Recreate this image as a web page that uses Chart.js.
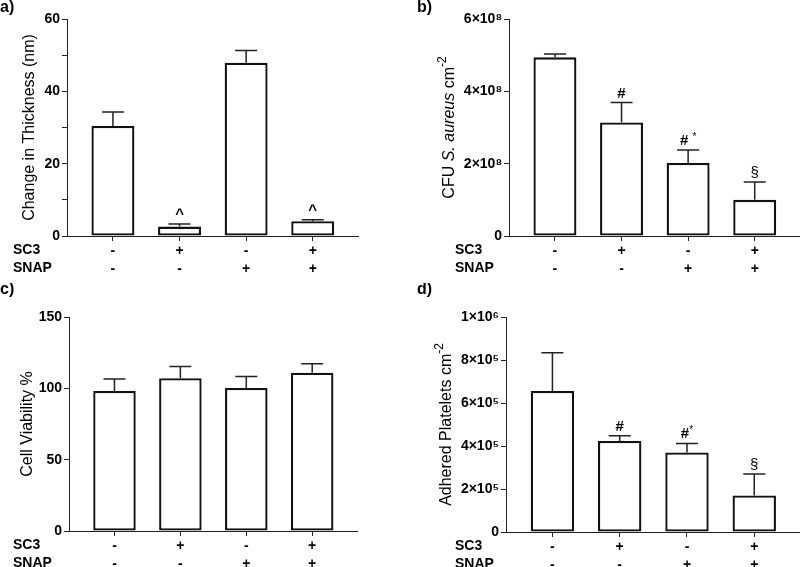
<!DOCTYPE html>
<html>
<head>
<meta charset="utf-8">
<script src="https://cdn.jsdelivr.net/npm/chart.js@4.4.1/dist/chart.umd.min.js"></script>
<style>
  html, body { margin: 0; padding: 0; background: #fff; overflow: hidden; }
  .panel { position: absolute; overflow: hidden; }
</style>
</head>
<body>
<div class="panel" style="left:0;top:0;width:400px;height:283px"><canvas id="chartA" width="400" height="283"></canvas></div>
<div class="panel" style="left:400px;top:0;width:400px;height:283px"><canvas id="chartB" width="404" height="283"></canvas></div>
<div class="panel" style="left:0;top:283px;width:400px;height:284px"><canvas id="chartC" width="400" height="284"></canvas></div>
<div class="panel" style="left:400px;top:283px;width:400px;height:284px"><canvas id="chartD" width="404" height="284"></canvas></div>
<script>
const FONT = '"Liberation Sans", Arial, sans-serif';
Chart.defaults.font.family = FONT;
Chart.defaults.color = '#000';

// groups and their treatment rows
const groups = [0, 1, 2, 3];
const sc3Labels = ['-', '+', '-', '+'];
const snapLabels = ['-', '-', '+', '+'];

// a) change in thickness
const thicknessMean = [30.4, 2.6, 47.9, 4.1];
const thicknessErr = [3.9, 0.7, 3.4, 0.4];
const thicknessMarks = ['', '^', '', '^'];

// b) CFU S. aureus
const cfuMean = [4.94e8, 3.14e8, 2.02e8, 1.00e8];
const cfuErr = [0.09e8, 0.55e8, 0.36e8, 0.49e8];
const cfuMarks = ['', '#', '# *', '§'];

// c) cell viability
const viabilityMean = [98.2, 107.1, 100.3, 110.9];
const viabilityErr = [8.4, 8.2, 8.0, 6.3];
const viabilityMarks = ['', '', '', ''];

// d) adhered platelets
const plateletMean = [6.56e5, 4.23e5, 3.70e5, 1.70e5];
const plateletErr = [1.78e5, 0.25e5, 0.42e5, 1.00e5];
const plateletMarks = ['', '#', '#*', '§'];

const sup = { '0': '⁰', '1': '¹', '2': '²', '3': '³', '4': '⁴', '5': '⁵', '6': '⁶', '7': '⁷', '8': '⁸', '9': '⁹' };
function sciLabel(v, exp) {
  if (v === 0) return '0';
  return Math.round(v / Math.pow(10, exp)) + '×10' + String(exp).split('').map(c => sup[c]).join('');
}

// error bars, significance marks, axis titles, row labels
const decor = {
  id: 'decor',
  afterDatasetsDraw(chart, args, opts) {
    const ctx = chart.ctx;
    const y = chart.scales.y;
    const meta = chart.getDatasetMeta(0);
    ctx.save();
    meta.data.forEach((bar, i) => {
      const top = y.getPixelForValue(opts.mean[i] + opts.err[i]);
      ctx.strokeStyle = '#222';
      ctx.lineWidth = 1.5;
      ctx.beginPath();
      ctx.moveTo(bar.x, bar.y);
      ctx.lineTo(bar.x, top);
      ctx.moveTo(bar.x - 11, top);
      ctx.lineTo(bar.x + 11, top);
      ctx.stroke();

      const mark = opts.marks[i];
      if (!mark) return;
      ctx.fillStyle = '#000';
      ctx.textBaseline = 'alphabetic';
      ctx.textAlign = 'left';
      const main = mark.replace('*', '');
      const star = mark.indexOf('*') >= 0;
      const mainFont = (main.trim() === '§' ? '' : 'bold ') + '15px ' + FONT;
      ctx.font = mainFont;
      const w1 = ctx.measureText(main).width;
      ctx.font = '10px ' + FONT;
      const w2 = star ? ctx.measureText('*').width : 0;
      const x0 = bar.x - (w1 + w2) / 2;
      ctx.font = mainFont;
      ctx.fillText(main, x0, top - 5);
      if (star) {
        ctx.font = '10px ' + FONT;
        ctx.fillText('*', x0 + w1, top - 10);
      }
    });
    ctx.restore();
  },
  afterDraw(chart, args, opts) {
    const ctx = chart.ctx;
    const area = chart.chartArea;
    ctx.save();
    ctx.fillStyle = '#000';

    // panel letter
    ctx.font = 'bold 16px ' + FONT;
    ctx.textAlign = 'left';
    ctx.textBaseline = 'alphabetic';
    ctx.fillText(opts.panel, opts.panelX, opts.panelY);

    // treatment row names
    ctx.font = 'bold 14px ' + FONT;
    ctx.fillText('SC3', opts.rowX, area.bottom + 18);
    ctx.fillText('SNAP', opts.rowX, area.bottom + 36);

    // rotated y title built from segments
    const segs = opts.title;
    const fontFor = s => (s.italic ? 'italic ' : '') + (s.sup ? '12px ' : '16px ') + FONT;
    let total = 0;
    segs.forEach(s => { ctx.font = fontFor(s); total += ctx.measureText(s.text).width; });
    ctx.translate(opts.titleX, (area.top + area.bottom) / 2);
    ctx.rotate(-Math.PI / 2);
    ctx.textBaseline = 'middle';
    let x = -total / 2;
    segs.forEach(s => {
      ctx.font = fontFor(s);
      ctx.fillText(s.text, x, s.sup ? -7 : 0);
      x += ctx.measureText(s.text).width;
    });
    ctx.restore();
  }
};

function makeChart(id, cfg) {
  const canvas = document.getElementById(id);
  const W = canvas.width, H = canvas.height;
  const a = cfg.area;
  return new Chart(canvas, {
    type: 'bar',
    data: {
      datasets: [{
        data: groups.map((g, i) => ({ x: g, y: cfg.mean[i] })),
        backgroundColor: '#fff',
        borderColor: '#111',
        borderWidth: 2.3,
        borderSkipped: false,
        categoryPercentage: 1,
        barPercentage: 0.645
      }]
    },
    options: {
      responsive: false,
      animation: false,
      events: [],
      layout: { padding: { left: 0, top: a.top, right: W - a.right, bottom: 0 } },
      plugins: {
        legend: { display: false },
        tooltip: { enabled: false },
        decor: {
          mean: cfg.mean, err: cfg.err, marks: cfg.marks,
          title: cfg.title, titleX: cfg.titleX,
          panel: cfg.panel, panelX: cfg.panelX, panelY: cfg.panelY, rowX: cfg.rowX
        }
      },
      scales: {
        x: {
          type: 'linear',
          min: -0.69,
          max: 3.68,
          offset: false,
          afterBuildTicks: s => { s.ticks = groups.map(v => ({ value: v })); },
          afterFit: s => { s.height = H - a.bottom; },
          grid: { offset: false, drawOnChartArea: false, drawTicks: true, tickLength: 5, color: '#222' },
          border: { color: '#222', width: 1 },
          ticks: {
            autoSkip: false,
            maxRotation: 0,
            padding: 1,
            font: { size: 14, weight: 'bold', lineHeight: 1.3 },
            callback: (v, i) => [sc3Labels[i], snapLabels[i]]
          }
        },
        y: {
          min: 0,
          max: cfg.yMax,
          afterFit: s => { s.width = a.left; },
          afterBuildTicks: s => {
            const t = [];
            for (let v = 0; v <= cfg.yMax + 1e-9 * cfg.yMax; v += cfg.yStep) t.push({ value: v });
            s.ticks = t;
          },
          grid: { drawOnChartArea: false, drawTicks: true, tickLength: 5, color: '#222' },
          border: { color: '#222', width: 1 },
          ticks: {
            padding: 2,
            font: { size: 14, weight: 'bold' },
            callback: cfg.tickLabel
          }
        }
      }
    },
    plugins: [decor]
  });
}

makeChart('chartA', {
  mean: thicknessMean, err: thicknessErr, marks: thicknessMarks,
  area: { left: 67, top: 19, right: 358, bottom: 236 },
  yMax: 60, yStep: 10,
  tickLabel: v => (Math.round(v) % 20 === 0 ? String(Math.round(v)) : ''),
  title: [{ text: 'Change in Thickness (nm)' }], titleX: 30,
  panel: 'a)', panelX: 0, panelY: 12, rowX: 13
});

makeChart('chartB', {
  mean: cfuMean, err: cfuErr, marks: cfuMarks,
  area: { left: 109, top: 19, right: 400, bottom: 236 },
  yMax: 6e8, yStep: 2e8,
  tickLabel: v => sciLabel(v, 8),
  title: [{ text: 'CFU ' }, { text: 'S. aureus', italic: true }, { text: ' cm' }, { text: '-2', sup: true }], titleX: 50,
  panel: 'b)', panelX: 17, panelY: 12, rowX: 55
});

makeChart('chartC', {
  mean: viabilityMean, err: viabilityErr, marks: viabilityMarks,
  area: { left: 69, top: 34, right: 357, bottom: 248 },
  yMax: 150, yStep: 50,
  tickLabel: v => String(Math.round(v)),
  title: [{ text: 'Cell Viability %' }], titleX: 28,
  panel: 'c)', panelX: 0, panelY: 11, rowX: 13
});

makeChart('chartD', {
  mean: plateletMean, err: plateletErr, marks: plateletMarks,
  area: { left: 106, top: 34, right: 400, bottom: 249 },
  yMax: 1e6, yStep: 2e5,
  tickLabel: v => (v === 1e6 ? '1×10⁶' : sciLabel(v, 5)),
  title: [{ text: 'Adhered Platelets cm' }, { text: '-2', sup: true }], titleX: 47,
  panel: 'd)', panelX: 17, panelY: 11, rowX: 55
});
</script>
</body>
</html>
